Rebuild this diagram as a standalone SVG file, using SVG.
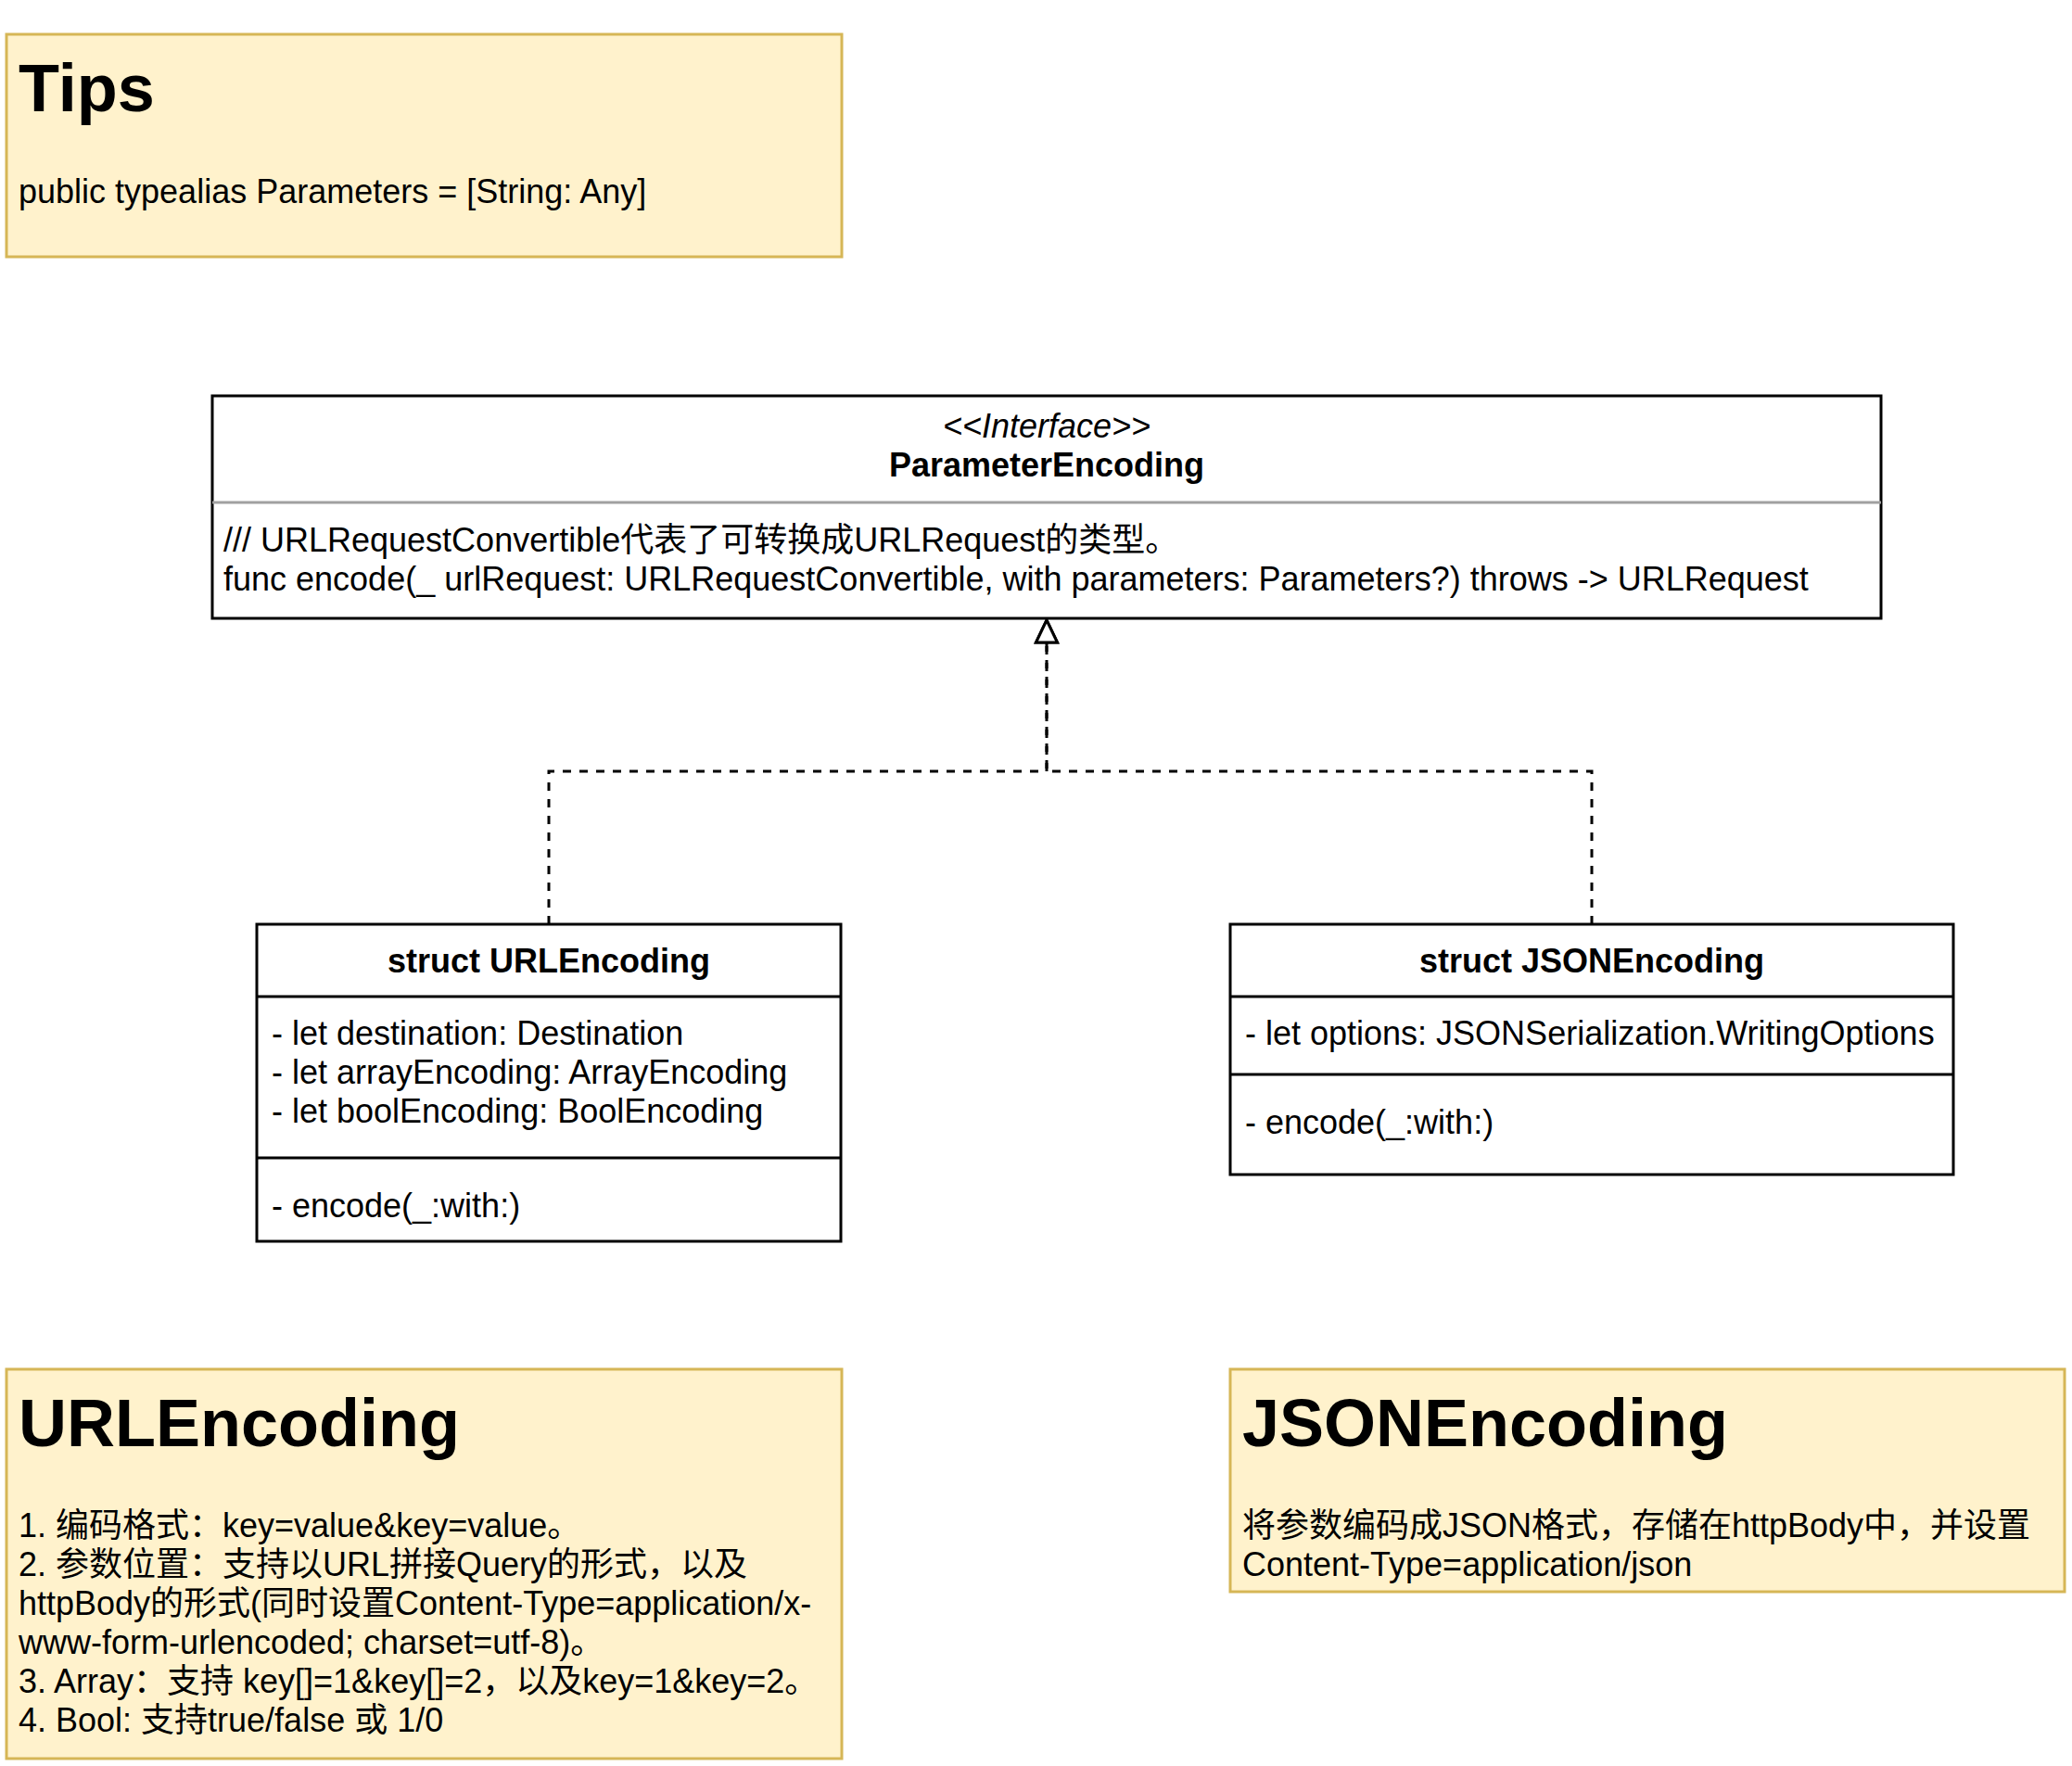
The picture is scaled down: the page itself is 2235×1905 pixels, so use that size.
<svg xmlns="http://www.w3.org/2000/svg" width="2235" height="1905" viewBox="0 0 2235 1905">
<style>
  text { font-family: "Liberation Sans", "Noto Sans CJK SC", sans-serif; fill: #000; }
  .note { fill: #fff2cc; stroke: #d6b656; stroke-width: 3; }
  .box { fill: #fff; stroke: #000; stroke-width: 3; }
  .div { stroke: #000; stroke-width: 3; }
  .hr { stroke: #a0a0a0; stroke-width: 3; }
  .h1 { font-size: 72px; font-weight: bold; }
  .body { font-size: 36px; }
  .bold { font-size: 36px; font-weight: bold; }
  .ital { font-size: 36px; font-style: italic; }
  .edge { fill: none; stroke: #000; stroke-width: 3; stroke-dasharray: 9 9; }
</style>
<defs>
  <marker id="tri" markerUnits="userSpaceOnUse" markerWidth="40" markerHeight="40" refX="24" refY="12" orient="auto" overflow="visible">
    <path d="M24,12 L0,0.5 L0,23.5 Z" fill="#fff" stroke="#000" stroke-width="3" stroke-linejoin="miter"/>
  </marker>
</defs>
<rect width="2235" height="1905" fill="#fff"/>

<g id="tips">
  <rect class="note" x="7" y="37" width="901" height="240"/>
  <text class="h1" x="20" y="120">Tips</text>
  <text class="body" x="20" y="219">public typealias Parameters = [String: Any]</text>
</g>

<g id="connectors">
  <path class="edge" d="M592,997 L592,832 L1129,832 L1129,669" marker-end="url(#tri)"/>
  <path class="edge" d="M1717,997 L1717,832 L1129,832 L1129,669" marker-end="url(#tri)"/>
</g>

<g id="parameterEncoding">
  <rect class="box" x="229" y="427" width="1800" height="240"/>
  <line class="hr" x1="229" y1="542" x2="2029" y2="542"/>
  <text class="ital" x="1129" y="472" text-anchor="middle">&lt;&lt;Interface&gt;&gt;</text>
  <text class="bold" x="1129" y="514" text-anchor="middle">ParameterEncoding</text>
  <text class="body" x="241" y="595">/// URLRequestConvertible代表了可转换成URLRequest的类型。</text>
  <text class="body" x="241" y="637">func encode(_ urlRequest: URLRequestConvertible, with parameters: Parameters?) throws -&gt; URLRequest</text>
</g>

<g id="urlEncodingClass">
  <rect class="box" x="277" y="997" width="630" height="342"/>
  <line class="div" x1="277" y1="1075" x2="907" y2="1075"/>
  <line class="div" x1="277" y1="1249" x2="907" y2="1249"/>
  <text class="bold" x="592" y="1049" text-anchor="middle">struct URLEncoding</text>
  <text class="body" x="293" y="1127">- let destination: Destination</text>
  <text class="body" x="293" y="1169">- let arrayEncoding: ArrayEncoding</text>
  <text class="body" x="293" y="1211">- let boolEncoding: BoolEncoding</text>
  <text class="body" x="293" y="1313">- encode(_:with:)</text>
</g>

<g id="jsonEncodingClass">
  <rect class="box" x="1327" y="997" width="780" height="270"/>
  <line class="div" x1="1327" y1="1075" x2="2107" y2="1075"/>
  <line class="div" x1="1327" y1="1159" x2="2107" y2="1159"/>
  <text class="bold" x="1717" y="1049" text-anchor="middle">struct JSONEncoding</text>
  <text class="body" x="1343" y="1127">- let options: JSONSerialization.WritingOptions</text>
  <text class="body" x="1343" y="1223">- encode(_:with:)</text>
</g>

<g id="urlEncodingNote">
  <rect class="note" x="7" y="1477" width="901" height="420"/>
  <text class="h1" x="20" y="1560">URLEncoding</text>
  <text class="body" x="20" y="1658">1. 编码格式：key=value&amp;key=value。</text>
  <text class="body" x="20" y="1700">2. 参数位置：支持以URL拼接Query的形式，以及</text>
  <text class="body" x="20" y="1742">httpBody的形式(同时设置Content-Type=application/x-</text>
  <text class="body" x="20" y="1784">www-form-urlencoded; charset=utf-8)。</text>
  <text class="body" x="20" y="1826">3. Array：支持 key[]=1&amp;key[]=2，以及key=1&amp;key=2。</text>
  <text class="body" x="20" y="1868">4. Bool: 支持true/false 或 1/0</text>
</g>

<g id="jsonEncodingNote">
  <rect class="note" x="1327" y="1477" width="900" height="240"/>
  <text class="h1" x="1340" y="1560">JSONEncoding</text>
  <text class="body" x="1340" y="1658">将参数编码成JSON格式，存储在httpBody中，并设置</text>
  <text class="body" x="1340" y="1700">Content-Type=application/json</text>
</g>
</svg>
